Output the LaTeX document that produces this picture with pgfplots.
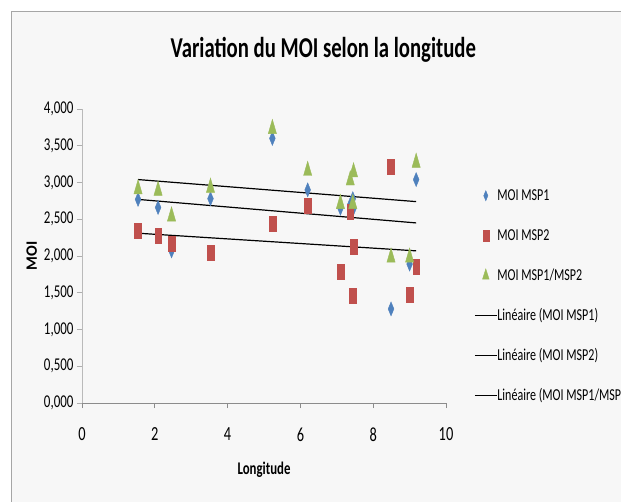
\documentclass[border=0pt]{standalone}
\usepackage{fontspec}
\setmainfont{Carlito}[FakeStretch=0.72]
\usepackage{pgfplots}
\pgfplotsset{compat=1.18}
\definecolor{msp1}{HTML}{4F81BD}
\definecolor{msp2}{HTML}{C0504D}
\definecolor{msp12}{HTML}{9BBB59}
\definecolor{bg}{HTML}{F7F7F7}
\definecolor{frame}{HTML}{A6A6A6}
\definecolor{axisgray}{HTML}{8C8C8C}
\begin{document}
\begin{tikzpicture}
\useasboundingbox (0,0) rectangle (621pt,-502pt);
\draw[frame, fill=bg, line width=1pt] (11pt,-12pt) rectangle (640pt,-520pt);
\begin{axis}[
  at={(82pt,-403pt)}, anchor=south west,
  scale only axis, width=364pt, height=294pt,
  xmin=0, xmax=10, ymin=0, ymax=4,
  axis x line*=bottom, axis y line*=left,
  x axis line style={axisgray, line width=0.9pt},
  y axis line style={axisgray!60, line width=0.8pt},
  xtick={0,2,4,6,8,10},
  ytick={0,0.5,1,1.5,2,2.5,3,3.5,4},
  tick align=outside, major tick length=5pt,
  x tick style={axisgray, line width=0.8pt},
  y tick style={axisgray!70, line width=0.8pt},
  /pgf/number format/assume math mode=true,
  yticklabel style={font=\fontsize{18}{20}\selectfont, /pgf/number format/.cd, fixed, fixed zerofill, precision=3, use comma, 1000 sep={}},
  xticklabel style={font=\fontsize{20}{22}\selectfont, yshift=-16pt},
  title={Variation du MOI selon la longitude},
  title style={font=\fontsize{28.8}{30}\selectfont\bfseries, at={(0.663,1.156)}, anchor=base, inner sep=0pt},
  xlabel={Longitude},
  xlabel style={font=\fontsize{17.8}{20}\selectfont\bfseries, yshift=-14pt},
  ylabel={\scalebox{1}[0.72]{MOI}},
  ylabel style={font=\fontsize{22}{24}\selectfont\bfseries},
  legend cell align=left,
  legend image code/.code={\draw[mark repeat=2,mark phase=2,#1] plot coordinates {(0pt,0pt) (11pt,0pt) (22pt,0pt)};},
  legend image post style={mark options={xscale=0.4, yscale=0.72}},
  legend style={at={(1.0687,0.738)}, anchor=north west, draw=none, fill=none,
    font=\fontsize{16.7}{18}\selectfont, row sep=25pt,
    nodes={inner sep=0pt, text height=12pt, text depth=3pt}},
]
\addplot[only marks, mark=diamond*, color=msp1, mark size=7pt, mark options={xscale=0.55}] coordinates {
(1.54,2.77) (2.09,2.66) (2.46,2.07) (3.53,2.78) (5.23,3.60) (6.20,2.90)
(7.10,2.65) (7.37,2.70) (7.44,2.78) (7.46,2.65) (8.49,1.28) (9.00,1.89) (9.18,3.04)};
\addlegendentry{MOI MSP1}
\addplot[only marks, mark=square*, color=msp2, mark size=7.5pt, mark options={xscale=0.45}] coordinates {
(1.54,2.35) (2.09,2.28) (2.46,2.17) (3.53,2.04) (5.23,2.44) (6.20,2.69)
(7.10,1.78) (7.37,2.60) (7.44,1.46) (7.46,2.13) (8.49,3.21) (9.00,1.48) (9.18,1.86)};
\addlegendentry{MOI MSP2}
\addplot[only marks, mark=triangle*, color=msp12, mark size=9.5pt, mark options={xscale=0.5}] coordinates {
(1.54,2.91) (2.09,2.89) (2.46,2.54) (3.53,2.93) (5.23,3.73) (6.20,3.16)
(7.10,2.71) (7.37,3.03) (7.44,2.71) (7.46,3.14) (8.49,1.98) (9.00,1.98) (9.18,3.27)};
\addlegendentry{MOI MSP1/MSP2}
\addplot[black, line width=1.2pt, mark=none] coordinates {(1.54,2.77) (9.18,2.45)};
\addlegendentry{Linéaire (MOI MSP1)}
\addplot[black, line width=1.2pt, mark=none] coordinates {(1.54,2.31) (9.18,2.07)};
\addlegendentry{Linéaire (MOI MSP2)}
\addplot[black, line width=1.2pt, mark=none] coordinates {(1.54,3.04) (9.18,2.74)};
\addlegendentry{Linéaire (MOI MSP1/MSP2)}
\end{axis}
\end{tikzpicture}
\end{document}
